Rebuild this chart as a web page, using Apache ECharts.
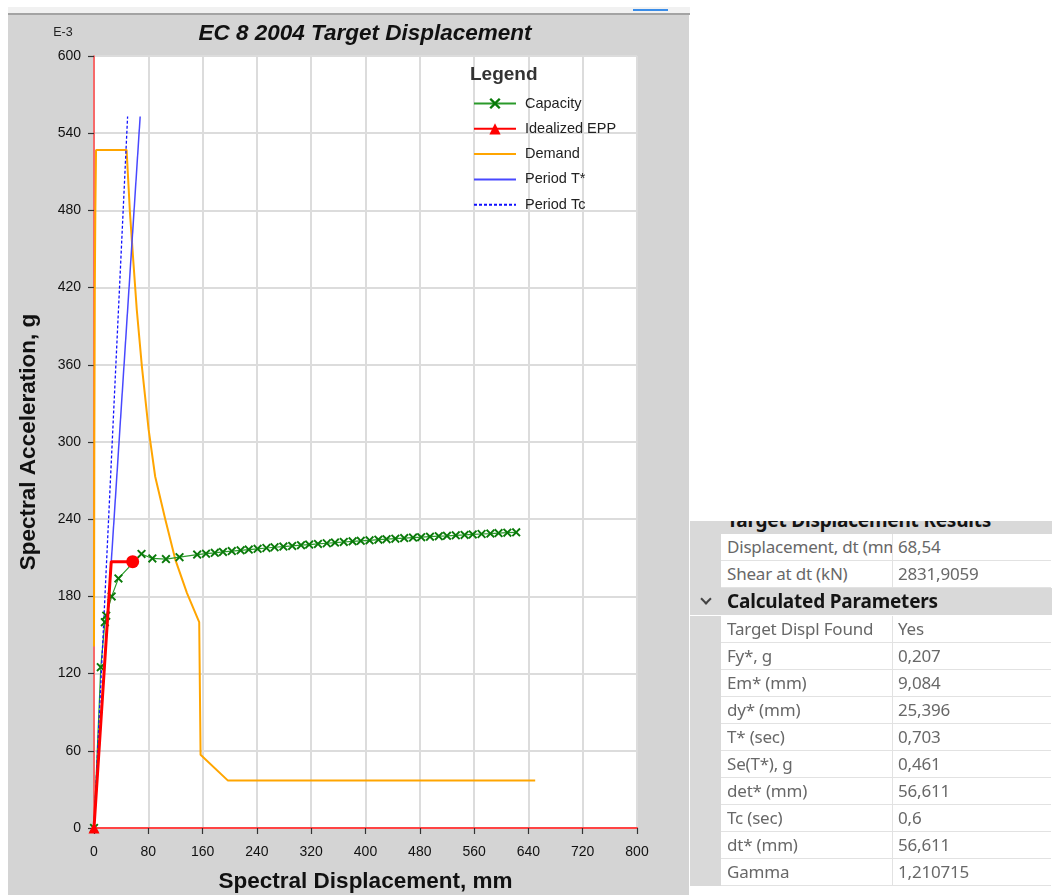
<!DOCTYPE html>
<html>
<head>
<meta charset="utf-8">
<script src="https://cdn.jsdelivr.net/npm/echarts@6/dist/echarts.min.js"></script>
<style>
  html, body { margin: 0; padding: 0; background: #ffffff; }
  body { width: 1052px; height: 895px; position: relative; overflow: hidden; font-family: "Liberation Sans", Arial, sans-serif; }
  #band { position: absolute; left: 8px; top: 7px; width: 682px; height: 6px; background: #f1f1f1; }
  #topline { position: absolute; left: 8px; top: 13px; width: 682px; height: 2px; background: #a3a3a3; }
  #blue { position: absolute; left: 633px; top: 9px; width: 35px; height: 2px; background: #3b8de8; }
  #panel { position: absolute; left: 8px; top: 15px; width: 681px; height: 880px; background: #d4d4d4; }
  #chart { position: absolute; left: 0; top: 0; width: 1052px; height: 895px; }
  #table { position: absolute; left: 690px; top: 521px; width: 362px; height: 366px; overflow: hidden; font-family: "Noto Sans", sans-serif; }
  .row { position: absolute; left: 0; width: 362px; height: 27px; }
  .strip { position: absolute; left: 0; top: 0; width: 31px; height: 27px; background: #d9d9d9; }
  .c1, .c2 { position: absolute; top: 0; height: 26px; line-height: 26px; border-bottom: 1px solid #e2e2e2; color: #686868; font-size: 17px; white-space: nowrap; overflow: hidden; background: #fff; box-sizing: content-box; letter-spacing: -0.2px; }
  .c1 { left: 31px; width: 165px; padding-left: 6px; border-right: 1px solid #e2e2e2; }
  .c2 { left: 203px; width: 153px; padding-left: 5px; }
  .grp { position: absolute; left: 0; top: 0; width: 362px; height: 27px; background: #d9d9d9; }
  .grp .t { position: absolute; left: 37px; top: 0; line-height: 27px; font-size: 19px; font-weight: bold; color: #141414; white-space: nowrap; letter-spacing: -0.2px; }
  .chev { position: absolute; left: 12px; top: 7px; width: 6px; height: 6px; border-right: 2px solid #444; border-bottom: 2px solid #444; transform: rotate(45deg); }
</style>
</head>
<body>
<div id="band"></div>
<div id="topline"></div>
<div id="blue"></div>
<div id="panel"></div>
<div id="chart"></div>
<div id="table"></div>
<script>
// ---------------- data ----------------
const xTicks = [0, 80, 160, 240, 320, 400, 480, 560, 640, 720, 800];
const yTicks = [0, 60, 120, 180, 240, 300, 360, 420, 480, 540, 600];

const capacitySd = [0, 10, 16, 18, 26, 36, 70, 86, 106, 126,
  152, 165, 178, 190, 203, 216, 228, 241, 254, 266, 279, 292, 305, 317, 330, 343, 355, 368,
  381, 393, 406, 419, 431, 444, 457, 470, 482, 495, 508, 520, 533, 546, 558, 571, 584, 596, 609, 622];
const capacitySa = [0, 125, 160, 165, 180, 194, 213, 209.5, 209, 210.5,
  212.5, 213.2, 213.9, 214.6, 215.2, 215.8, 216.4, 217.0, 217.6, 218.2, 218.7, 219.2, 219.8, 220.3, 220.8, 221.3, 221.8, 222.3,
  222.8, 223.2, 223.6, 224.1, 224.5, 224.9, 225.3, 225.7, 226.0, 226.4, 226.8, 227.1, 227.5, 227.8, 228.2, 228.5, 228.8, 229.2, 229.5, 229.8];

const eppSd = [0, 25.4, 57];
const eppSa = [0, 207, 207];

const demandSd = [0, 0.5, 1.2, 2, 3, 48, 53, 58, 63, 70.5, 80.4, 90.2, 105, 119.8, 137, 155, 157, 157, 197, 650];
const demandSa = [141, 300, 420, 480, 527, 527, 478, 440, 403, 359, 310, 273, 240, 208.6, 182.6, 160, 159, 57, 37, 37];

const periodTSd = [0, 68];
const periodTSa = [0, 553];

const periodTcSd = [0, 49.5];
const periodTcSa = [0, 553];

const seriesNames = ['Capacity', 'Idealized EPP', 'Demand', 'Period T*', 'Period Tc'];

const headerCut = 'Target Displacement Results';
const topLabels = ['Displacement, dt (mm)', 'Shear at dt (kN)'];
const topValues = ['68,54', '2831,9059'];
const groupTitle = 'Calculated Parameters';
const paramLabels = ['Target Displ Found', 'Fy*, g', 'Em* (mm)', 'dy* (mm)', 'T* (sec)', 'Se(T*), g', 'det* (mm)', 'Tc (sec)', 'dt* (mm)', 'Gamma'];
const paramValues = ['Yes', '0,207', '9,084', '25,396', '0,703', '0,461', '56,611', '0,6', '56,611', '1,210715'];

// ---------------- table ----------------
(function buildTable() {
  const t = document.getElementById('table');
  const base = -14; // first (clipped) header row
  let html = '';
  html += '<div class="row" style="top:' + base + 'px"><div class="grp"><div class="t">' + headerCut + '</div></div></div>';
  let y = base + 27;
  topLabels.forEach((l, i) => {
    html += '<div class="row" style="top:' + y + 'px"><div class="strip"></div><div class="c1">' + l + '</div><div class="c2">' + topValues[i] + '</div></div>';
    y += 27;
  });
  html += '<div class="row" style="top:' + y + 'px"><div class="grp"><div class="chev"></div><div class="t">' + groupTitle + '</div></div></div>';
  y += 28;
  paramLabels.forEach((l, i) => {
    html += '<div class="row" style="top:' + y + 'px"><div class="strip"></div><div class="c1">' + l + '</div><div class="c2">' + paramValues[i] + '</div></div>';
    y += 27;
  });
  t.innerHTML = html;
})();

// ---------------- chart ----------------
const zip = (a, b) => a.map((v, i) => [v, b[i]]);
const xMark = 'path://M1.5,0 L5,3.5 L8.5,0 L10,1.5 L6.5,5 L10,8.5 L8.5,10 L5,6.5 L1.5,10 L0,8.5 L3.5,5 L0,1.5 Z';

const eppData = zip(eppSd, eppSa).map((p, i) => {
  if (i === 0) return { value: p, symbol: 'triangle', symbolSize: 11 };
  if (i === eppSd.length - 1) return { value: p, symbol: 'circle', symbolSize: 13 };
  return { value: p, symbol: 'none' };
});

const FONT = '"Liberation Sans", Arial, sans-serif';
const noMarker = { opacity: 0 };
const chart = echarts.init(document.getElementById('chart'), null, { renderer: 'canvas' });
chart.setOption({
  animation: false,
  backgroundColor: 'transparent',
  grid: { left: 94, top: 56, width: 543, height: 772, show: true, backgroundColor: '#ffffff', borderWidth: 0, containLabel: false, outerBoundsMode: 'none' },
  xAxis: {
    type: 'value', min: xTicks[0], max: xTicks[xTicks.length - 1], interval: xTicks[1] - xTicks[0],
    axisLine: { show: true, onZero: false, lineStyle: { color: '#ff4444', width: 2 } },
    axisTick: { show: true, length: 6, lineStyle: { color: '#333', width: 1.2 } },
    axisLabel: { color: '#111', fontSize: 14, fontFamily: FONT, margin: 17 },
    splitLine: { show: true, lineStyle: { color: '#dcdcdc', width: 2 } },
    name: 'Spectral Displacement, mm', nameLocation: 'middle', nameGap: 42,
    nameTextStyle: { fontSize: 22.5, fontWeight: 'bold', color: '#111', fontFamily: FONT }
  },
  yAxis: {
    type: 'value', min: yTicks[0], max: yTicks[yTicks.length - 1], interval: yTicks[1] - yTicks[0],
    axisLine: { show: true, onZero: false, lineStyle: { color: '#ff4444', width: 1.5 } },
    axisTick: { show: true, length: 6, lineStyle: { color: '#333', width: 1.2 } },
    axisLabel: { color: '#111', fontSize: 14, fontFamily: FONT, margin: 13 },
    splitLine: { show: true, lineStyle: { color: '#dcdcdc', width: 2 } },
    name: 'Spectral Acceleration, g', nameLocation: 'middle', nameGap: 54,
    nameTextStyle: { fontSize: 22.5, fontWeight: 'bold', color: '#111', fontFamily: FONT }
  },
  legend: {
    orient: 'vertical', left: 468, top: 91, itemWidth: 42, itemHeight: 14, itemGap: 10.3,
    textStyle: { fontSize: 14.5, color: '#222', fontFamily: FONT, padding: [0, 0, 0, 4] },
    data: [
      { name: seriesNames[0] },
      { name: seriesNames[1] },
      { name: seriesNames[2], itemStyle: noMarker },
      { name: seriesNames[3], itemStyle: noMarker },
      { name: seriesNames[4], itemStyle: noMarker }
    ]
  },
  graphic: [
    { type: 'text', z: 100, x: 365, y: 34, style: { text: 'EC 8 2004 Target Displacement', font: 'italic bold 22.5px ' + FONT, fill: '#111', textAlign: 'center', textVerticalAlign: 'middle' } },
    { type: 'text', z: 100, x: 63, y: 33, style: { text: 'E-3', font: '12.5px ' + FONT, fill: '#222', textAlign: 'center', textVerticalAlign: 'middle' } },
    { type: 'text', z: 100, x: 470, y: 75, style: { text: 'Legend', font: 'bold 19px ' + FONT, fill: '#333', textAlign: 'left', textVerticalAlign: 'middle' } }
  ],
  series: [
    {
      name: seriesNames[0], type: 'line', data: zip(capacitySd, capacitySa), z: 3,
      symbol: xMark, symbolSize: 9, showAllSymbol: true,
      lineStyle: { color: '#2a9a2a', width: 1.2 }, itemStyle: { color: '#0a7a0a' }
    },
    {
      name: seriesNames[1], type: 'line', data: eppData, z: 5,
      symbol: 'triangle', symbolSize: 11,
      lineStyle: { color: '#ff0000', width: 3 }, itemStyle: { color: '#ff0000' }
    },
    {
      name: seriesNames[2], type: 'line', data: zip(demandSd, demandSa), z: 2,
      symbol: 'none', lineStyle: { color: '#ffa500', width: 2 }, itemStyle: { color: '#ffa500' }
    },
    {
      name: seriesNames[3], type: 'line', data: zip(periodTSd, periodTSa), z: 3,
      symbol: 'none', lineStyle: { color: '#4848ff', width: 1.5 }, itemStyle: { color: '#4848ff' }
    },
    {
      name: seriesNames[4], type: 'line', data: zip(periodTcSd, periodTcSa), z: 3,
      symbol: 'none', lineStyle: { color: '#1010ff', width: 1.3, type: [3, 2] }, itemStyle: { color: '#1010ff' }
    }
  ]
});
</script>
</body>
</html>
